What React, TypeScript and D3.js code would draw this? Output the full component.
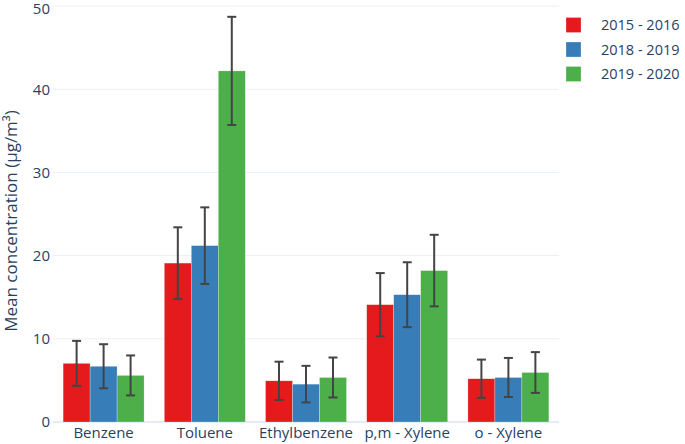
import React from "react";
import * as d3 from "d3";

const compounds = ["Benzene", "Toluene", "Ethylbenzene", "p,m - Xylene", "o - Xylene"];
const periods = ["2015 - 2016", "2018 - 2019", "2019 - 2020"];
const colors = ["#e41a1c", "#377eb8", "#4daf4a"];

// mean values per period (same order as compounds)
const means2015 = [7.05, 19.1, 4.95, 14.1, 5.2];
const means2018 = [6.7, 21.2, 4.55, 15.3, 5.35];
const means2019 = [5.6, 42.2, 5.35, 18.2, 5.95];
// error (± half-range) per period
const err2015 = [2.7, 4.3, 2.3, 3.8, 2.3];
const err2018 = [2.65, 4.6, 2.2, 3.9, 2.35];
const err2019 = [2.4, 6.5, 2.4, 4.3, 2.45];

const yTicks = [0, 10, 20, 30, 40, 50];

const width = 685, height = 444;
const margin = { left: 53, right: 126, top: 6, bottom: 22 };
const font = "'Open Sans', sans-serif";
const textColor = "#2a3f5f";

export default function App() {
  const means = [means2015, means2018, means2019];
  const errs = [err2015, err2018, err2019];

  const x = d3.scaleBand().domain(compounds).range([margin.left, width - margin.right]).paddingInner(0.2).paddingOuter(0.1);
  const xSub = d3.scaleBand().domain(periods).range([0, x.bandwidth()]);
  const y = d3.scaleLinear().domain([0, 50]).range([height - margin.bottom, margin.top]);

  const bars = periods.flatMap((p, i) =>
    compounds.map((c, j) => ({ p, c, i, v: means[i][j], e: errs[i][j] }))
  );

  return (
    <svg width={width} height={height} style={{ position: "absolute", left: 0, top: 0, background: "#fff" }}>
      {/* grid */}
      {yTicks.map((t) => (
        <line key={t} x1={margin.left} x2={width - margin.right} y1={y(t)} y2={y(t)}
          stroke={t === 0 ? "#e5ecf6" : "#ebf0f8"} strokeWidth={t === 0 ? 2 : 1} />
      ))}
      {yTicks.map((t) => (
        <text key={"yl" + t} x={50} y={Math.max(y(t), 8.5)} dy="0.36em" textAnchor="end"
          fontFamily={font} fontSize={15} fill={textColor}>{t}</text>
      ))}
      <text transform={`translate(11,221) rotate(-90)`} textAnchor="middle" dy="0.36em"
        fontFamily={font} fontSize={17} fill={textColor}>Mean concentration (μg/m³)</text>

      {/* bars */}
      {bars.map((b) => (
        <rect key={b.p + b.c} x={x(b.c)! + xSub(b.p)!} width={xSub.bandwidth()}
          y={y(b.v)} height={y(0) - y(b.v)} fill={colors[b.i]} stroke="rgba(255,255,255,0.5)" strokeWidth={0.5} />
      ))}
      {/* error bars */}
      {bars.map((b) => {
        const cx = x(b.c)! + xSub(b.p)! + xSub.bandwidth() / 2;
        return (
          <g key={"e" + b.p + b.c} stroke="#444" strokeWidth={2}>
            <line x1={cx} x2={cx} y1={y(b.v + b.e)} y2={y(b.v - b.e)} />
            <line x1={cx - 4.5} x2={cx + 4.5} y1={y(b.v + b.e)} y2={y(b.v + b.e)} />
            <line x1={cx - 4.5} x2={cx + 4.5} y1={y(b.v - b.e)} y2={y(b.v - b.e)} />
          </g>
        );
      })}

      {/* x labels */}
      {compounds.map((c) => (
        <text key={c} x={x(c)! + x.bandwidth() / 2} y={height - 6} textAnchor="middle"
          fontFamily={font} fontSize={15} fill={textColor}>{c}</text>
      ))}

      {/* legend */}
      {periods.map((p, i) => (
        <g key={p} transform={`translate(566,${25 + i * 24.5})`}>
          <rect x={0} y={-7.5} width={15} height={15} fill={colors[i]} stroke="rgba(255,255,255,0.5)" strokeWidth={0.5} />
          <text x={35} y={0} dy="0.36em" fontFamily={font} fontSize={14.5} fill={textColor}>{p}</text>
        </g>
      ))}
    </svg>
  );
}
